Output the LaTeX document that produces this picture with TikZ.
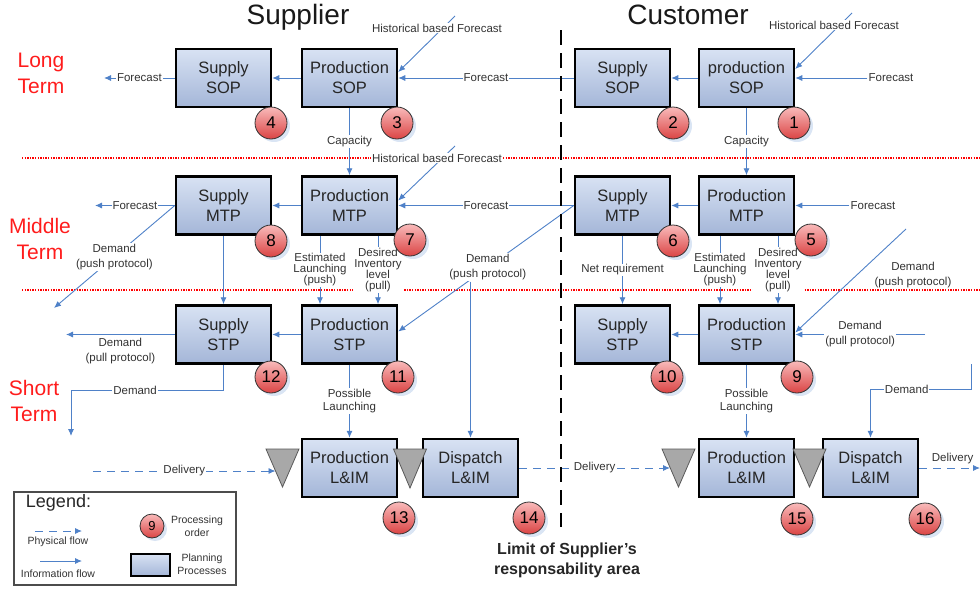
\documentclass[tikz,border=0pt]{standalone}
\usepackage{fontspec}
\setmainfont{Liberation Sans}
\usepackage{xcolor}
\usepackage{tikz}
\usetikzlibrary{arrows.meta, positioning, calc, shadows}

\definecolor{flowblue}{RGB}{79,129,200}
\definecolor{boxtop}{RGB}{216,226,243}
\definecolor{boxbot}{RGB}{164,182,216}
\definecolor{ordtop}{RGB}{249,186,186}
\definecolor{ordbot}{RGB}{218,68,68}
\definecolor{stockgray}{RGB}{168,168,168}
\definecolor{termred}{RGB}{255,28,28}

\begin{document}
\begin{tikzpicture}[x=1pt, y=-1pt,
    flow/.style={draw=flowblue, line width=0.9pt, -{Latex[length=7pt,width=6pt]}},
    phys/.style={flow, dash pattern=on 8pt off 6pt},
    plan/.style={draw=black, line width=2.5pt, top color=boxtop, bottom color=boxbot,
      minimum width=95pt, minimum height=58pt, inner sep=0pt, align=center,
      font=\fontsize{16.5}{20}\selectfont, text=black!85},
    lbl/.style={fill=white, inner sep=1pt, align=center,
      font=\fontsize{11.5}{13}\selectfont, text=black!80},
    lbltwo/.style={lbl, font=\fontsize{11.5}{15}\selectfont},
    tight/.style={lbl, font=\fontsize{11.5}{11}\selectfont},
    lgd/.style={align=center, font=\fontsize{10.5}{13}\selectfont, text=black!80},
    order/.style={circle, draw=black!80, line width=0.8pt, minimum size=32pt, inner sep=0pt,
      top color=ordtop, bottom color=ordbot, font=\fontsize{17}{17}\selectfont,
      drop shadow={shadow xshift=3pt, shadow yshift=-3pt, fill=flowblue!35, opacity=0.6}},
    stock/.style={fill=stockgray, draw=black!65, line width=0.8pt},
    term/.style={text=termred, align=center, font=\fontsize{21}{26}\selectfont},
    side/.style={font=\fontsize{28}{28}\selectfont, text=black!90},
    horizon/.style={draw=red, line width=1.3pt, dash pattern=on 1.3pt off 1.3pt},
    limit/.style={draw=black, line width=2.2pt, dash pattern=on 15pt off 8pt}]

  \useasboundingbox (0,0) rectangle (980,592);

  \node[side] (supplier) at (298,17) {Supplier};
  \node[side] (customer) at (688,15) {Customer};

  \node[term] (longT) at (41,73) {Long\\Term};
  \node[term] (midT) at (40,239) {Middle\\Term};
  \node[term] (shortT) at (34,401) {Short\\Term};

  \draw[horizon] (22,158) -- (980,158);
  \draw[horizon] (22,290) -- (980,290);

  \node[plan] (sSupSOP) at (223.5,78) {Supply\\SOP};
  \node[plan] (sProdSOP) at (349.5,78) {Production\\SOP};
  \node[plan] (cSupSOP) at (622.5,78) {Supply\\SOP};
  \node[plan] (cProdSOP) at (746.5,78) {production\\SOP};

  \node[plan] (sSupMTP) at (223.5,205.5) {Supply\\MTP};
  \node[plan] (sProdMTP) at (349.5,205.5) {Production\\MTP};
  \node[plan] (cSupMTP) at (622.5,205.5) {Supply\\MTP};
  \node[plan] (cProdMTP) at (746.5,205.5) {Production\\MTP};

  \node[plan] (sSupSTP) at (223.5,334.5) {Supply\\STP};
  \node[plan] (sProdSTP) at (349.5,334.5) {Production\\STP};
  \node[plan] (cSupSTP) at (622.5,334.5) {Supply\\STP};
  \node[plan] (cProdSTP) at (746.5,334.5) {Production\\STP};

  \node[plan] (sProdLIM) at (349.5,468) {Production\\L\&IM};
  \node[plan] (sDisLIM) at (470.5,468) {Dispatch\\L\&IM};
  \node[plan] (cProdLIM) at (746.5,468) {Production\\L\&IM};
  \node[plan] (cDisLIM) at (870.5,468) {Dispatch\\L\&IM};

  \coordinate (fcOutS1) at (104,78);
  \coordinate (fcOutS2) at (95,205.5);
  \coordinate (dmOutS1) at (54,308);
  \coordinate (dmOutS2) at (66,334.5);
  \coordinate (dmOutS3) at (71,436);
  \coordinate (histS1) at (455,16);
  \coordinate (histS2) at (455,146);
  \coordinate (histC1) at (852,13);
  \coordinate (dmPushC) at (906,229);
  \coordinate (dmPullC) at (925,334.5);
  \coordinate (dmC) at (971,364);
  \coordinate (dlS) at (93,471);
  \coordinate (dlOutC) at (980,468);
  \coordinate (inS1) at (275.5,471);
  \coordinate (inC1) at (670,468);
  \coordinate (tS1) at (282.5,449);
  \coordinate (tS2) at (410,449);
  \coordinate (tC1) at (678.5,449);
  \coordinate (tC2) at (809.5,449);

  \draw[flow] (sSupSOP) -- node[lbl] {Forecast} (fcOutS1);
  \draw[flow] (sProdSOP) -- (sSupSOP);
  \draw[flow] (cSupSOP) -- node[lbl] {Forecast} (sProdSOP);
  \draw[flow] (histS1) -- ([yshift=6pt]sProdSOP.east);
  \node[lbl] (histLblS1) at (437,28) {Historical based Forecast};
  \draw[flow] (cProdSOP) -- (cSupSOP);
  \draw[flow] (histC1) -- ([yshift=9pt]cProdSOP.east);
  \node[lbl] (histLblC1) at (834,25) {Historical based Forecast};
  \node[lbl] (fcC1) at (891,78) {Forecast};
  \draw[flow] (fcC1) -- (cProdSOP);
  \draw[flow] (sProdSOP) -- node[lbl] {Capacity} (sProdMTP);
  \draw[flow] (cProdSOP) -- node[lbl] {Capacity} (cProdMTP);

  \draw[flow] (histS2) -- ([yshift=5pt]sProdMTP.east);
  \node[lbl] (histLblS2) at (437,158) {Historical based Forecast};
  \draw[flow] (sSupMTP) -- node[lbl] {Forecast} (fcOutS2);
  \draw[flow] (sProdMTP) -- (sSupMTP);
  \draw[flow] (cSupMTP) -- node[lbl] {Forecast} (sProdMTP);
  \draw[flow] (cProdMTP) -- (cSupMTP);
  \node[lbl] (fcC2) at (873,205.5) {Forecast};
  \draw[flow] (fcC2) -- (cProdMTP);
  \draw[flow] (sSupMTP.west) -- node[lbltwo] {Demand\\(push protocol)} (dmOutS1);
  \draw[flow] (sSupMTP) -- (sSupSTP);
  \draw[flow] ([xshift=-29.5pt]sProdMTP.south) -- node[tight] {Estimated\\Launching\\(push)} ([xshift=-29.5pt]sProdSTP.north);
  \draw[flow] ([xshift=28.5pt]sProdMTP.south) -- node[tight] {Desired\\Inventory\\level\\(pull)} ([xshift=28.5pt]sProdSTP.north);
  \draw[flow] ([xshift=-26.5pt]cProdMTP.south) -- node[tight] {Estimated\\Launching\\(push)} ([xshift=-26.5pt]cProdSTP.north);
  \draw[flow] ([xshift=31.5pt]cProdMTP.south) -- node[tight] {Desired\\Inventory\\level\\(pull)} ([xshift=31.5pt]cProdSTP.north);
  \draw[flow] (cSupMTP) -- node[lbl] {Net requirement} (cSupSTP);
  \draw[flow] (cSupMTP.west) -- node[lbltwo, pos=0.49] (dmPushS) {Demand\\(push protocol)} ([yshift=3pt]sProdSTP.east);
  \draw[flow] (dmPushS.south -| sDisLIM.north) -- (sDisLIM.north);

  \draw[flow] (dmPushC) -- ([yshift=2pt]cProdSTP.east);
  \node[lbltwo] (dmPushLblC) at (913,275) {Demand\\(push protocol)};
  \draw[flow] (dmPullC) -- node[lbltwo] {Demand\\(pull protocol)} (cProdSTP);
  \draw[flow] (cProdSTP) -- (cSupSTP);
  \draw[flow] (dmC) -- ++(0,25) -| node[lbl, pos=0.32] {Demand} (cDisLIM.north);
  \draw[flow] (sSupSTP) -- node[lbltwo, below=2pt] {Demand\\(pull protocol)} (dmOutS2);
  \draw[flow] (sProdSTP) -- (sSupSTP);
  \draw[flow] (sSupSTP.south) -- ++(0,26) -| node[lbl, pos=0.29] {Demand} (dmOutS3);
  \draw[flow] (sProdSTP) -- node[lbl] {Possible\\Launching} (sProdLIM);
  \draw[flow] (cProdSTP) -- node[lbl] {Possible\\Launching} (cProdLIM);

  \draw[phys] (dlS) -- node[lbl] {Delivery} (inS1);
  \draw[phys] (sDisLIM) -- node[lbl] {Delivery} (inC1);
  \draw[phys] (cDisLIM) -- node[lbl, above=3pt, pos=0.55] {Delivery} (dlOutC);

  \draw[stock] (tS1) -- ++(16.5,0) -- ++(-16.5,38) -- ++(-16.5,-38) -- cycle;
  \draw[stock] (tS2) -- ++(16.5,0) -- ++(-16.5,39) -- ++(-16.5,-39) -- cycle;
  \draw[stock] (tC1) -- ++(16.5,0) -- ++(-16.5,38) -- ++(-16.5,-38) -- cycle;
  \draw[stock] (tC2) -- ++(16.5,0) -- ++(-16.5,38) -- ++(-16.5,-38) -- cycle;

  \node[order] (o1) at (794,123) {1};
  \node[order] (o2) at (673,123) {2};
  \node[order] (o3) at (397,123) {3};
  \node[order] (o4) at (271,123) {4};
  \node[order] (o5) at (811,240) {5};
  \node[order] (o6) at (673,241) {6};
  \node[order] (o7) at (410,240) {7};
  \node[order] (o8) at (271,241) {8};
  \node[order] (o9) at (797,377) {9};
  \node[order] (o10) at (667,377) {10};
  \node[order] (o11) at (398,377) {11};
  \node[order] (o12) at (271,377) {12};
  \node[order] (o13) at (399,518) {13};
  \node[order] (o14) at (529,518) {14};
  \node[order] (o15) at (797,519) {15};
  \node[order] (o16) at (925,519) {16};

  \draw[limit] (561,30) -- (561,527);
  \node[font=\bfseries\fontsize{16}{20}\selectfont, align=center, text=black!85] (limitTxt) at (567,560) {Limit of Supplier’s\\responsability area};

  \node[draw=black!70, line width=1.2pt, minimum width=222pt, minimum height=93pt, fill=white] (legend) at (125,538.5) {};
  \node[font=\fontsize{18}{18}\selectfont, text=black!85] (legTitle) at (58.5,503) {Legend:};
  \coordinate (physA) at (35,531);
  \coordinate (physB) at (82,531);
  \coordinate (infoA) at (40,561);
  \coordinate (infoB) at (82,561);
  \draw[phys] (physA) -- (physB);
  \node[lgd] (physTxt) at (58,542) {Physical flow};
  \draw[flow] (infoA) -- (infoB);
  \node[lgd] (infoTxt) at (58,574) {Information flow};
  \node[order, minimum size=24pt, font=\fontsize{13}{13}\selectfont] (oLeg) at (152,526) {9};
  \node[lgd] (ordTxt) at (197,526) {Processing\\order};
  \node[plan, minimum width=39pt, minimum height=22pt, line width=2pt] (planLeg) at (150.5,565) {};
  \node[lgd] (planTxt) at (202,564) {Planning\\Processes};
\end{tikzpicture}
\end{document}
